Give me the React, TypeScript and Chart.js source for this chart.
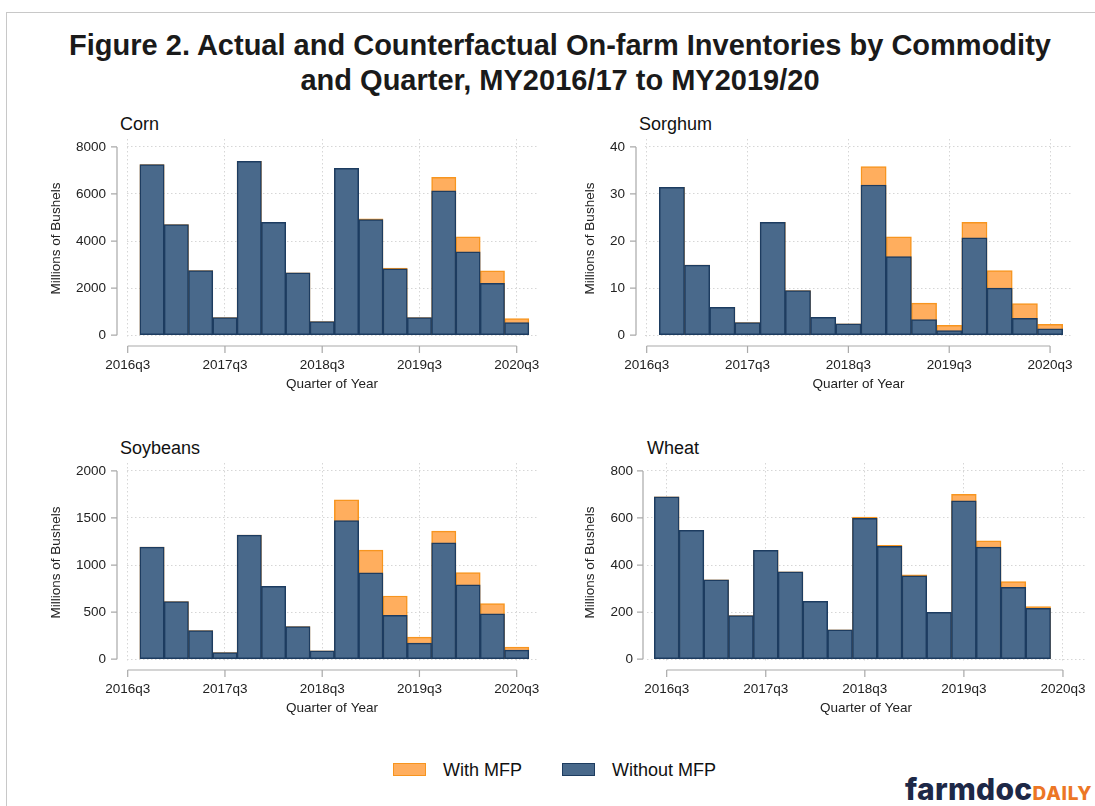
import React, { useEffect, useRef } from 'react';
import { Chart, registerables } from 'chart.js';

Chart.register(...registerables);

// ---------- data ----------
const xTickLabels = ['2016q3', '2017q3', '2018q3', '2019q3', '2020q3'];

const quartersMain = [
  '2016q4', '2017q1', '2017q2', '2017q3', '2017q4', '2018q1', '2018q2', '2018q3',
  '2018q4', '2019q1', '2019q2', '2019q3', '2019q4', '2020q1', '2020q2', '2020q3',
];
const quartersWheat = [
  '2016q3', '2016q4', '2017q1', '2017q2', '2017q3', '2017q4', '2018q1', '2018q2',
  '2018q3', '2018q4', '2019q1', '2019q2', '2019q3', '2019q4', '2020q1', '2020q2',
];

const cornWithout = [7250, 4700, 2750, 750, 7390, 4790, 2650, 580, 7090, 4910, 2820, 750, 6130, 3540, 2200, 540];
const cornWith = [7250, 4700, 2750, 750, 7390, 4790, 2650, 580, 7090, 4940, 2850, 750, 6710, 4180, 2730, 710];
const sorghumWithout = [31.4, 14.9, 5.9, 2.7, 24.0, 9.5, 3.8, 2.4, 31.9, 16.7, 3.3, 1.0, 20.7, 10.0, 3.6, 1.35];
const sorghumWith = [31.4, 14.9, 5.9, 2.7, 24.0, 9.5, 3.8, 2.4, 35.8, 20.9, 6.8, 2.1, 24.0, 13.7, 6.7, 2.3];
const soybeansWithout = [1190, 611, 305, 71, 1318, 774, 345, 89, 1471, 916, 465, 171, 1236, 789, 483, 96];
const soybeansWith = [1190, 611, 305, 71, 1318, 774, 345, 89, 1694, 1158, 671, 234, 1361, 920, 590, 128];
const wheatWithout = [690, 548, 337, 185, 462, 371, 246, 125, 599, 480, 354, 199, 673, 476, 305, 216];
const wheatWith = [690, 548, 337, 185, 462, 371, 246, 125, 604, 484, 358, 199, 700, 503, 330, 223];

const cornYTicks = [0, 2000, 4000, 6000, 8000];
const sorghumYTicks = [0, 10, 20, 30, 40];
const soybeansYTicks = [0, 500, 1000, 1500, 2000];
const wheatYTicks = [0, 200, 400, 600, 800];

const seriesNames = ['With MFP', 'Without MFP'];

// ---------- styles ----------
const FONT = '"Liberation Sans", Arial, Helvetica, sans-serif';
const BLUE_FILL = '#49698b';
const BLUE_EDGE = '#1d3c60';
const ORANGE_FILL = '#ffae5e';
const ORANGE_EDGE = '#f7951f';
const GRID = '#d6d6d6';
const AXIS = '#a9a9a9';
const TEXT = '#222222';

const quarterIndex = (label: string) => {
  const year = parseInt(label.slice(0, 4), 10);
  const q = parseInt(label.slice(5), 10);
  return (year - 2016) * 4 + (q - 3);
};

const stataAxes = {
  id: 'stataAxes',
  afterDraw(chart: any, _args: any, opts: any) {
    const { ctx, chartArea, scales } = chart;
    const xs = scales.x;
    const ys = scales.y;
    ctx.save();
    ctx.strokeStyle = AXIS;
    ctx.lineWidth = 1.2;
    ctx.beginPath();
    const ax = chartArea.left - opts.gap;
    const yt = ys.ticks;
    ctx.moveTo(ax, ys.getPixelForValue(yt[0].value));
    ctx.lineTo(ax, ys.getPixelForValue(yt[yt.length - 1].value));
    yt.forEach((t: any) => {
      const py = ys.getPixelForValue(t.value);
      ctx.moveTo(ax - 6, py);
      ctx.lineTo(ax, py);
    });
    const ay = chartArea.bottom + 8;
    const xt = xs.ticks;
    ctx.moveTo(xs.getPixelForValue(xt[0].value), ay);
    ctx.lineTo(xs.getPixelForValue(xt[xt.length - 1].value), ay);
    xt.forEach((t: any) => {
      const px = xs.getPixelForValue(t.value);
      ctx.moveTo(px, ay);
      ctx.lineTo(px, ay + 7);
    });
    ctx.stroke();
    ctx.restore();
  },
};

type PanelProps = {
  title: string;
  quarters: string[];
  withVals: number[];
  withoutVals: number[];
  yTicks: number[];
  left: number;
  top: number;
  width: number;
  yScaleWidth: number;
  padRight: number;
  yTitlePad: number;
  yTickPad: number;
  gap: number;
  xMin: number;
  xMax: number;
  titleLeft: number;
};

const PANEL_H = 290;

const zeroPad = (s: any) => {
  s.paddingLeft = 0;
  s.paddingRight = 0;
  s.paddingTop = 0;
  s.paddingBottom = 0;
};

function Panel(p: PanelProps) {
  const ref = useRef<HTMLCanvasElement | null>(null);
  useEffect(() => {
    if (!ref.current) return;
    const xTickVals = xTickLabels.map(quarterIndex);
    const M = p.yTicks[p.yTicks.length - 1];
    const xs = p.quarters.map(quarterIndex);
    const chart = new Chart(ref.current, {
      type: 'bar',
      data: {
        datasets: [
          {
            label: seriesNames[1],
            data: xs.map((x, i) => ({ x, y: p.withoutVals[i] })),
            backgroundColor: BLUE_FILL,
            borderColor: BLUE_EDGE,
            borderWidth: 1.5,
            borderSkipped: false,
            grouped: false,
            barPercentage: 1,
            categoryPercentage: 1,
          } as any,
          {
            label: seriesNames[0],
            data: xs.map((x, i) => ({ x, y: p.withVals[i] })),
            backgroundColor: ORANGE_FILL,
            borderColor: ORANGE_EDGE,
            borderWidth: 1.5,
            borderSkipped: false,
            grouped: false,
            barPercentage: 1,
            categoryPercentage: 1,
          } as any,
        ],
      },
      options: {
        animation: false,
        responsive: false,
        maintainAspectRatio: false,
        layout: { padding: { top: 29, right: p.padRight, left: 0, bottom: 0 } },
        plugins: {
          legend: { display: false },
          title: { display: false },
          tooltip: { enabled: false },
          stataAxes: { gap: p.gap },
        } as any,
        scales: {
          x: {
            type: 'linear',
            min: p.xMin,
            max: p.xMax,
            offset: false,
            afterBuildTicks: (s: any) => {
              s.ticks = xTickVals.map((v) => ({ value: v }));
            },
            afterFit: (s: any) => {
              s.height = 62;
              zeroPad(s);
            },
            grid: { offset: false, color: GRID, lineWidth: 1, drawTicks: false },
            border: { display: false, dash: [1.5, 2.5] },
            ticks: {
              autoSkip: false,
              maxRotation: 0,
              padding: 19,
              color: TEXT,
              font: { family: FONT, size: 13.5 },
              callback: (v: any) => {
                const i = xTickVals.indexOf(Number(v));
                return i >= 0 ? xTickLabels[i] : '';
              },
            },
            title: {
              display: true,
              text: 'Quarter of Year',
              color: TEXT,
              font: { family: FONT, size: 13.5 },
              padding: { top: 0, bottom: 8 },
            },
          },
          y: {
            type: 'linear',
            min: -0.015 * M,
            max: 1.042 * M,
            afterBuildTicks: (s: any) => {
              s.ticks = p.yTicks.map((v) => ({ value: v }));
            },
            afterFit: (s: any) => {
              s.width = p.yScaleWidth;
              zeroPad(s);
            },
            grid: { color: GRID, lineWidth: 1, drawTicks: false },
            border: { display: false, dash: [1.5, 2.5] },
            ticks: {
              padding: p.yTickPad,
              color: TEXT,
              font: { family: FONT, size: 13.5 },
              callback: (v: any) => String(v),
            },
            title: {
              display: true,
              text: 'Millions of Bushels',
              color: TEXT,
              font: { family: FONT, size: 13.5 },
              padding: { top: p.yTitlePad, bottom: 0 },
            },
          },
        },
      } as any,
      plugins: [stataAxes as any],
    });
    return () => chart.destroy();
  }, []);
  return (
    <>
      <div
        style={{
          position: 'absolute',
          left: p.titleLeft,
          top: p.top + 3,
          fontFamily: FONT,
          fontSize: 18,
          lineHeight: '22px',
          color: '#111',
        }}
      >
        {p.title}
      </div>
      <canvas
        ref={ref}
        width={p.width}
        height={PANEL_H}
        style={{ position: 'absolute', left: p.left, top: p.top, width: p.width, height: PANEL_H }}
      />
    </>
  );
}

export default function App() {
  useEffect(() => {
    document.body.style.margin = '0';
    document.body.style.background = '#ffffff';
  }, []);
  const TOP1 = 110;
  const TOP2 = 434;
  return (
    <div style={{ position: 'relative', width: 1095, height: 806, background: '#fff', overflow: 'hidden' }}>
      <div
        style={{
          position: 'absolute',
          left: 6,
          top: 12,
          width: 1095,
          height: 800,
          borderTop: '1.5px solid #c8c8c8',
          borderLeft: '1.5px solid #c8c8c8',
        }}
      />
      <div
        style={{
          position: 'absolute',
          left: 25,
          top: 28,
          width: 1070,
          textAlign: 'center',
          fontFamily: FONT,
          fontWeight: 'bold',
          fontSize: 29,
          lineHeight: '35px',
          color: '#1a1a1a',
        }}
      >
        Figure 2. Actual and Counterfactual On-farm Inventories by Commodity
        <br />
        and Quarter, MY2016/17 to MY2019/20
      </div>

      <Panel
        title="Corn"
        quarters={quartersMain}
        withVals={cornWith}
        withoutVals={cornWithout}
        yTicks={cornYTicks}
        left={40}
        top={TOP1}
        width={510}
        yScaleWidth={87}
        padRight={13}
        yTitlePad={8.5}
        yTickPad={21}
        gap={10}
        xMin={-0.029}
        xMax={16.835}
        titleLeft={120}
      />
      <Panel
        title="Sorghum"
        quarters={quartersMain}
        withVals={sorghumWith}
        withoutVals={sorghumWithout}
        yTicks={sorghumYTicks}
        left={560}
        top={TOP1}
        width={530}
        yScaleWidth={85}
        padRight={18}
        yTitlePad={22.5}
        yTickPad={20}
        gap={9}
        xMin={-0.067}
        xMax={16.87}
        titleLeft={639}
      />
      <Panel
        title="Soybeans"
        quarters={quartersMain}
        withVals={soybeansWith}
        withoutVals={soybeansWithout}
        yTicks={soybeansYTicks}
        left={40}
        top={TOP2}
        width={510}
        yScaleWidth={87}
        padRight={13}
        yTitlePad={8.5}
        yTickPad={21}
        gap={10}
        xMin={-0.029}
        xMax={16.835}
        titleLeft={120}
      />
      <Panel
        title="Wheat"
        quarters={quartersWheat}
        withVals={wheatWith}
        withoutVals={wheatWithout}
        yTicks={wheatYTicks}
        left={560}
        top={TOP2}
        width={535}
        yScaleWidth={87}
        padRight={10}
        yTitlePad={22.5}
        yTickPad={14}
        gap={4}
        xMin={-0.795}
        xMax={16.89}
        titleLeft={647}
      />

      {/* legend */}
      <div
        style={{
          position: 'absolute',
          left: 393,
          top: 763,
          width: 31,
          height: 11,
          background: ORANGE_FILL,
          border: `1.5px solid ${ORANGE_EDGE}`,
        }}
      />
      <div
        style={{ position: 'absolute', left: 443, top: 759, fontFamily: FONT, fontSize: 18, lineHeight: '22px', color: '#111' }}
      >
        {seriesNames[0]}
      </div>
      <div
        style={{
          position: 'absolute',
          left: 562,
          top: 763,
          width: 31,
          height: 11,
          background: BLUE_FILL,
          border: `1.5px solid ${BLUE_EDGE}`,
        }}
      />
      <div
        style={{ position: 'absolute', left: 612, top: 759, fontFamily: FONT, fontSize: 18, lineHeight: '22px', color: '#111' }}
      >
        {seriesNames[1]}
      </div>

      {/* logo */}
      <div
        style={{
          position: 'absolute',
          left: 905,
          top: 773,
          whiteSpace: 'nowrap',
          fontFamily: 'Inter, "Open Sans", sans-serif',
          fontWeight: 800,
          lineHeight: '32px',
        }}
      >
        <span style={{ fontSize: 30, color: '#1d2847', letterSpacing: 0.3 }}>farmdoc</span>
        <span style={{ fontSize: 19, color: '#ec7625', letterSpacing: 0.8 }}>DAILY</span>
      </div>
    </div>
  );
}
